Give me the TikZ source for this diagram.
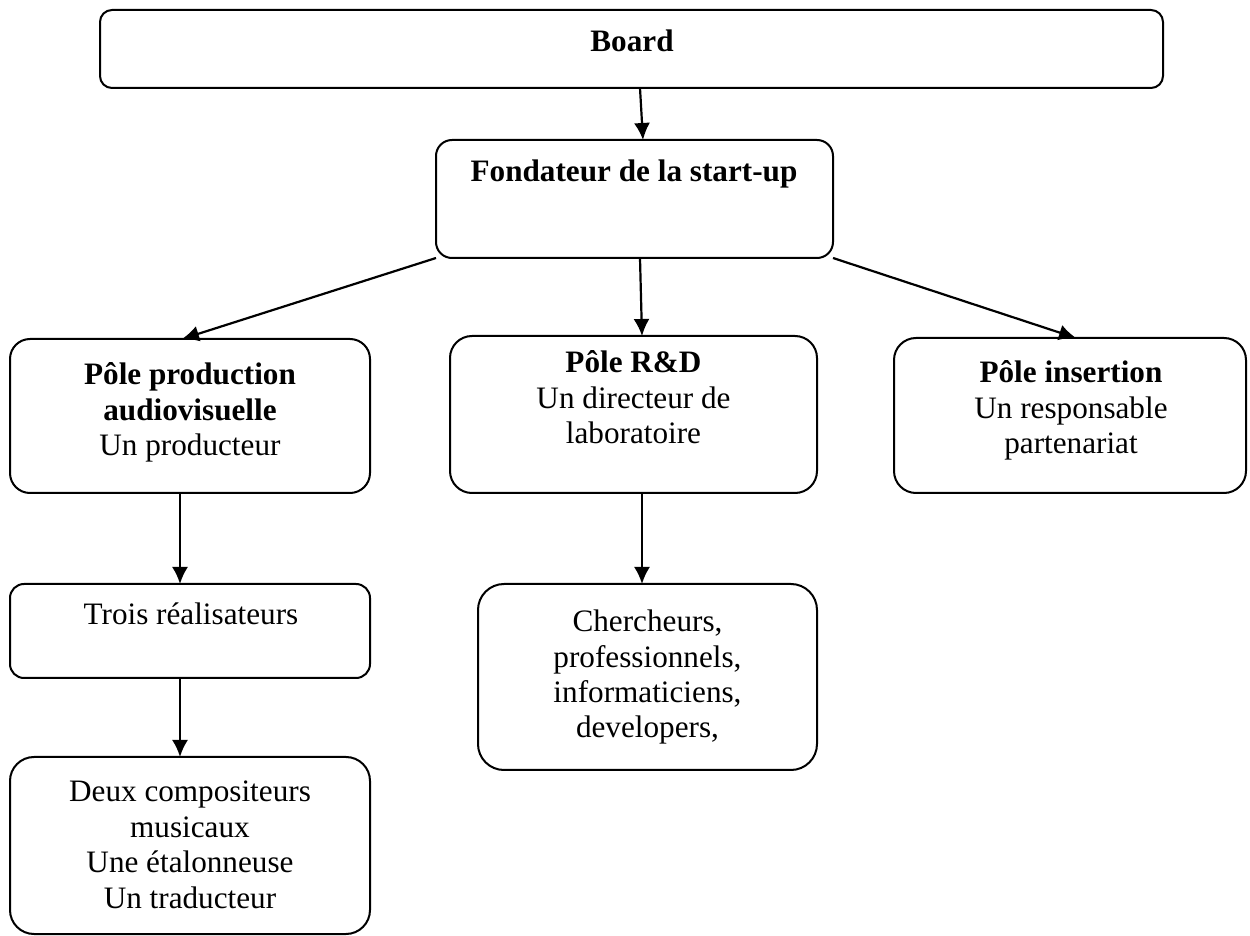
\documentclass[tikz,border=0pt]{standalone}
\usepackage{fontspec}
\setmainfont{Liberation Serif}
\usetikzlibrary{arrows.meta}
\begin{document}
\begin{tikzpicture}[x=0.5pt,y=-0.5pt,
  box/.style={draw, line width=1pt, rectangle, inner sep=0pt, outer sep=0pt},
  txt/.style={anchor=base, align=center, inner sep=0pt, font=\fontsize{15.6pt}{17.75pt}\selectfont},
  conn/.style={-{Latex[length=8.5pt,width=8pt]}, line width=1.1pt}]
\useasboundingbox (0,0) rectangle (1250,936);
% boxes
\node[box, minimum width=531.5pt, minimum height=39pt, rounded corners=6pt] (board) at (631.5,49) {};
\node[box, minimum width=198.5pt, minimum height=59pt, rounded corners=8pt] (fond) at (634.5,199) {};
\node[box, minimum width=180pt, minimum height=77pt, rounded corners=10pt] (prod) at (190,416) {};
\node[box, minimum width=183.5pt, minimum height=78.5pt, rounded corners=11pt] (rd) at (633.5,414.5) {};
\node[box, minimum width=176pt, minimum height=77.5pt, rounded corners=11pt] (ins) at (1070,415.5) {};
\node[box, minimum width=180pt, minimum height=47pt, rounded corners=7pt] (trois) at (190,631) {};
\node[box, minimum width=180pt, minimum height=88.5pt, rounded corners=12pt] (deux) at (190,845.5) {};
\node[box, minimum width=169.5pt, minimum height=93pt, rounded corners=13pt] (cher) at (647.5,677) {};
% texts (anchor base = baseline of the last line)
\node[txt] (tboard) at (632,52) {\textbf{Board}};
\node[txt] (tfond) at (634,182) {\textbf{Fondateur de la start-up}};
\node[txt] (tprod) at (190,456) {\textbf{Pôle production}\\\textbf{audiovisuelle}\\Un producteur};
\node[txt] (trd) at (633.5,444) {\textbf{Pôle R\&D}\\Un directeur de\\laboratoire};
\node[txt] (tins) at (1071,454) {\textbf{Pôle insertion}\\Un responsable\\partenariat};
\node[txt] (ttrois) at (191,625) {Trois réalisateurs};
\node[txt] (tdeux) at (190,908) {Deux compositeurs\\musicaux\\Une étalonneuse\\Un traducteur};
\node[txt] (tcher) at (647.5,738) {Chercheurs,\\professionnels,\\informaticiens,\\developers,};
% connectors
\draw[conn] ([xshift=4.25pt]board.south) -- ([xshift=4.25pt]fond.north);
\draw[conn] (fond.south west) -- ([xshift=-4pt]prod.north);
\draw[conn] ([xshift=2.75pt]fond.south) -- ([xshift=4.25pt]rd.north);
\draw[conn] (fond.south east) -- ([xshift=3pt]ins.north);
\draw[conn] ([xshift=-5pt]prod.south) -- ([xshift=-5pt]trois.north);
\draw[conn] ([xshift=-5pt]trois.south) -- ([xshift=-5pt]deux.north);
\draw[conn] ([xshift=4.25pt]rd.south) -- ([xshift=-2.75pt]cher.north);
\end{tikzpicture}
\end{document}
